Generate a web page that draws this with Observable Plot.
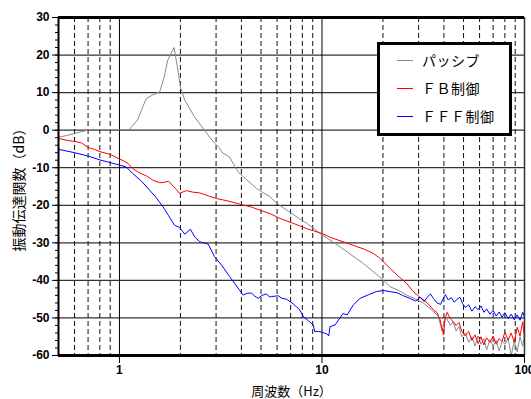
<!DOCTYPE html>
<html><head><meta charset="utf-8">
<script src="https://cdn.jsdelivr.net/npm/d3@7"></script>
<script src="https://cdn.jsdelivr.net/npm/@observablehq/plot@0.6"></script>
<style>
body{margin:0;background:#fff;}
#wrap{position:relative;width:531px;height:399px;}
#legend{position:absolute;left:377px;top:42px;width:135px;height:94px;box-sizing:border-box;border:3px solid #000;background:#fff;font-family:"Noto Sans CJK JP",sans-serif;font-size:14px;color:#000;}
.sw{position:absolute;left:17px;width:16px;height:1px;}
.lbl{position:absolute;left:42px;line-height:20px;white-space:nowrap;letter-spacing:0.5px;}
g[aria-label="y-axis tick label"] text, g[aria-label="x-axis tick label"] text{font-weight:bold;}
</style></head>
<body><div id="wrap"></div>
<script>
// ---- data ----
const seriesNames = ["パッシブ", "ＦＢ制御", "ＦＦＦ制御"];
const seriesColors = ["#8a8a8a", "#ff0000", "#0000ff"];

const passiveF = [0.5,0.55,0.6,0.65,0.71,0.8,0.9,1.0,1.12,1.23,1.355,1.45,1.58,1.66,1.73,1.86,1.93,2.0,2.1,2.35,2.61,2.8,2.95,3.1,3.23,3.37,3.5,3.7,3.85,4.2,4.75,5.0,5.53,5.98,7.0,8.5,10,11.5,13.3,16,20.1,21.7,24,26.2,
  29,31.8,35,37.5,39.2,40,41,43,44.5,46,47.5,49,51,53,55,57,59,61,63,65,67.5,70,72.5,75,77.5,80,83,86,89,92,95,98,100];
const passiveDB = [-1.9,-1.4,-0.9,-0.4,0.1,0.1,0.1,0.1,0.2,2.8,8.4,9.3,10.2,14,18.6,22,17,11.5,8.0,3.5,0.2,-2.0,-3.5,-4.6,-6.1,-6.6,-7.2,-9.5,-11.1,-13,-15.5,-16.3,-17.7,-19.5,-22,-25,-27.9,-30,-32.4,-35.5,-39.9,-41.7,-42.7,-43.9,
  -45,-46.1,-48,-49.5,-53.5,-51,-49.8,-52,-51,-53.5,-52.3,-55,-54,-56.5,-55,-57.5,-54.8,-57,-55.5,-58.5,-55.8,-57.5,-56,-58.8,-56.2,-57,-55.5,-60,-56,-59,-55,-57.5,-54.5];

const fbF = [0.5,0.55,0.6,0.65,0.7,0.75,0.81,0.88,0.94,1.0,1.05,1.1,1.16,1.25,1.36,1.46,1.58,1.66,1.75,1.85,1.98,2.14,2.3,2.49,2.75,3.01,3.4,3.93,4.5,4.93,5.53,6.2,7.2,8.5,9.96,11.2,12.7,14.5,16.2,17.9,19,20.1,21.7,23.5,26.2,28,
  30,31.8,33.5,35.6,37,38.3,39.2,39.8,40.6,41.5,43,44.5,46,47.5,49,51,53,55,57,59,61,63,65,67.5,70,72.5,75,77.5,80,83,86,89,92,95,98,100];
const fbDB = [-2.2,-2.7,-3.0,-3.4,-4.6,-5.1,-5.8,-6.3,-6.9,-7.7,-8.2,-8.8,-10.2,-11.3,-12.2,-13.3,-14,-13.9,-13.6,-15.0,-16.8,-16.1,-16.5,-16.7,-17.5,-18.2,-18.8,-19.7,-20.5,-21.3,-22.2,-23.5,-24.8,-26.3,-27.5,-28.7,-29.7,-30.8,-31.7,-32.8,-33.8,-35,-36.8,-38.6,-40.8,-42.8,
  -44.2,-45.2,-46.3,-47.9,-48.6,-50.5,-53.0,-54.5,-50.0,-48.5,-50.2,-51.0,-52.0,-51.2,-53.5,-54.8,-53.6,-56.0,-54.5,-56.8,-55.0,-57.2,-55.3,-56.5,-54.8,-57.0,-55.5,-56.2,-53.8,-55.9,-54.0,-56.5,-52.5,-54.8,-51.0,-55.5];

const fffF = [0.5,0.6,0.7,0.81,0.94,1.0,1.08,1.16,1.28,1.41,1.52,1.64,1.75,1.87,1.98,2.10,2.24,2.36,2.49,2.63,2.74,2.95,3.2,3.5,3.75,4.08,4.3,4.49,4.66,4.84,5.05,5.32,5.5,5.63,6.08,6.35,6.68,7.2,7.78,8.1,8.6,9.06,9.2,9.6,10.0,10.6,10.8,10.95,11.6,12.7,13.3,14.3,15.4,17,18.5,20.1,21.7,23.5,
  25,27.2,29,30.5,32,33,34.3,35.5,37,38.5,39.5,40.7,42,43.5,45,46.5,48,49.5,51,53,55,57,59,61,63,65,67.5,70,72.5,75,77.5,80,83,86,89,92,95,98,100];
const fffDB = [-5.1,-6.0,-6.9,-8.0,-8.9,-9.3,-9.8,-11.5,-13.5,-16,-18,-20.4,-22.8,-25.3,-25.9,-27.7,-26.4,-28.5,-29.7,-30.1,-30.3,-33.7,-36.0,-39,-41.2,-43.9,-43.4,-43.4,-44.2,-44.8,-44.0,-43.6,-44.4,-44.3,-44.1,-44.8,-45,-46.2,-47.9,-49.7,-50.8,-51.9,-53.6,-53.6,-53.8,-54.3,-54.8,-52.3,-51.9,-48.8,-49.2,-46.5,-44.8,-43.8,-43,-42.7,-43,-43.3,
  -44.0,-44.8,-45.5,-44.5,-45.6,-44.6,-43.6,-44.8,-46.0,-46.4,-45.0,-43.8,-45.2,-44.6,-45.8,-45.0,-44.5,-46.2,-47.2,-46.5,-48.2,-47.0,-47.8,-46.8,-48.5,-47.6,-49.0,-48.0,-49.5,-48.4,-49.8,-48.6,-50.2,-49.0,-50.5,-49.2,-50.6,-48.5,-49.7];

const yMajorTicks = [-60,-50,-40,-30,-20,-10,0,10,20,30];
const yMinorTicks = d3.range(-60, 31, 2);
const yGridLines = [-50,-40,-30,-20,-10,0,10,20];
const xMajorTicks = [1, 10, 100];
const xSolidGrid = [1, 10];
const xDashedGrid = [0.6,0.7,0.8,0.9,2,3,4,5,6,7,8,9,20,30,40,50,60,70,80,90];
const xTitle = "周波数（Hz）";
const yTitle = "振動伝達関数（dB）";

// ---- build tables ----
const mk = (F, V) => F.map((f, i) => ({f, v: V[i]}));
const passive = mk(passiveF, passiveDB);
const fb = mk(fbF, fbDB);
const fff = mk(fffF, fffDB);

const chart = Plot.plot({
  width: 531, height: 399,
  marginLeft: 58, marginRight: 7, marginTop: 17, marginBottom: 44,
  x: {type: "log", domain: [0.5, 100]},
  y: {domain: [-60, 30]},
  style: {fontFamily: "'Liberation Sans', Arial, sans-serif", fontSize: "12px", background: "#fff", color: "#000"},
  marks: [
    Plot.ruleY(yGridLines, {stroke: "#333", strokeWidth: 1.3}),
    Plot.ruleX(xDashedGrid, {stroke: "#111", strokeWidth: 1, strokeDasharray: "5,3"}),
    Plot.ruleX(xSolidGrid, {stroke: "#000", strokeWidth: 1}),
    Plot.line(passive, {x: "f", y: "v", stroke: seriesColors[0], strokeWidth: 1}),
    Plot.line(fb, {x: "f", y: "v", stroke: seriesColors[1], strokeWidth: 1}),
    Plot.line(fff, {x: "f", y: "v", stroke: seriesColors[2], strokeWidth: 1}),
    Plot.ruleY([30], {stroke: "#000", strokeWidth: 3}),
    Plot.ruleY([-60], {stroke: "#000", strokeWidth: 3}),
    Plot.ruleX([0.5], {stroke: "#000", strokeWidth: 2}),
    Plot.ruleX([100], {stroke: "#333", strokeWidth: 1.5}),
    Plot.axisY(yMinorTicks, {tickSize: 3, tickFormat: () => "", label: null}),
    Plot.axisY(yMajorTicks, {tickSize: 6, tickPadding: 3, tickFormat: d => String(d), fontWeight: "bold", label: null}),
    Plot.axisX(xMajorTicks, {tickSize: 8, tickPadding: 2, tickWidth: 2, tickFormat: d => String(d), fontWeight: "bold", label: null}),
    Plot.text([yTitle], {frameAnchor: "left", rotate: -90, dx: -39, textAnchor: "middle", lineAnchor: "middle", fontFamily: "'Noto Sans CJK JP', sans-serif", fontSize: 14}),
    Plot.text([xTitle], {frameAnchor: "bottom", dy: 36, textAnchor: "middle", lineAnchor: "middle", fontFamily: "'Noto Sans CJK JP', sans-serif", fontSize: 13})
  ]
});
const wrap = document.getElementById("wrap");
wrap.appendChild(chart);

// legend
const leg = document.createElement("div");
leg.id = "legend";
const rowCenters = [15, 43, 71];
seriesNames.forEach((name, i) => {
  const sw = document.createElement("div");
  sw.className = "sw";
  sw.style.top = rowCenters[i] + "px";
  sw.style.background = seriesColors[i];
  const lb = document.createElement("div");
  lb.className = "lbl";
  lb.style.top = (rowCenters[i] - 10) + "px";
  lb.textContent = name;
  leg.appendChild(sw);
  leg.appendChild(lb);
});
wrap.appendChild(leg);
</script></body></html>
